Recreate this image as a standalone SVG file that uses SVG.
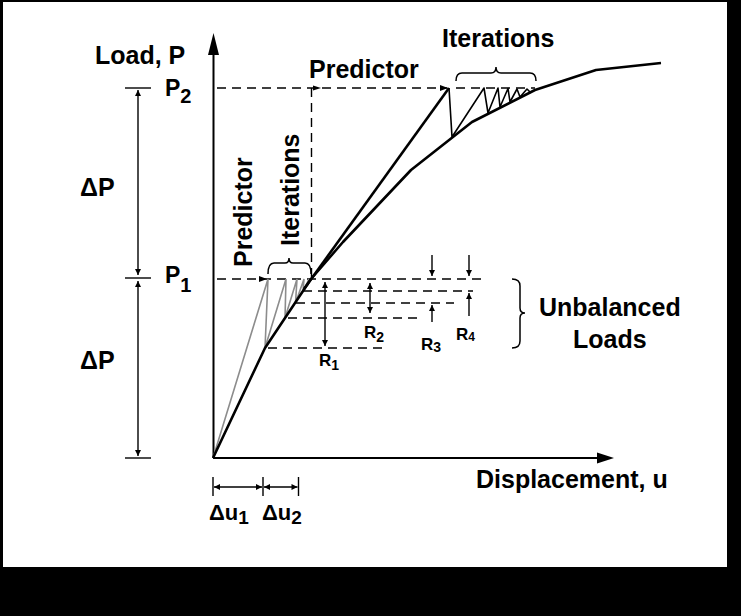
<svg xmlns="http://www.w3.org/2000/svg" width="741" height="616" viewBox="0 0 741 616">
<style>
.t{font-family:"Liberation Sans",Arial,sans-serif;font-weight:bold;fill:#000}
.big{font-size:25px}
.mid{font-size:22px}
.sm{font-size:17px}
.ln{stroke:#000;fill:none}
.dash{stroke:#000;stroke-width:1.4;stroke-dasharray:9 6;fill:none}
.gray{stroke:#8c8c8c;stroke-width:1.6;fill:none}
.dim{stroke:#000;stroke-width:1.4;fill:none}
</style>
<defs>
<marker id="ah" viewBox="0 0 10 10" refX="10" refY="5" markerWidth="7" markerHeight="6" markerUnits="userSpaceOnUse" orient="auto-start-reverse"><path d="M0,0 L10,5 L0,10 z" fill="#000"/></marker>
</defs>
<rect x="0" y="0" width="741" height="616" fill="#000"/>
<rect x="3" y="2" width="724" height="565" fill="#fff"/>

<g id="axes">
<line class="ln" x1="213.5" y1="458" x2="213.5" y2="50" stroke-width="2"/>
<polygon points="213.5,33 208,55 219,55" fill="#000"/>
<line class="ln" x1="213" y1="458" x2="600" y2="458" stroke-width="2"/>
<polygon points="614,458 597,452.5 597,463.5" fill="#000"/>
</g>

<g id="connectors">
<line class="dash" x1="217" y1="88" x2="447" y2="88"/>
<line class="dash" x1="456" y1="88" x2="535" y2="88"/>
<polygon points="448,88 440,85 440,91" fill="#000"/>
<line class="dash" x1="311.5" y1="88" x2="311.5" y2="279"/>
<polygon points="321,88 313,85.5 313,90.5" fill="#000"/>
<line class="dash" x1="217" y1="279" x2="482" y2="279"/>
<polygon points="267,279 259,276 259,282" fill="#000"/>
<line class="dash" x1="303" y1="291" x2="473" y2="291"/>
<line class="dash" x1="296" y1="303" x2="454" y2="303"/>
<line class="dash" x1="288" y1="318" x2="421" y2="318"/>
<line class="dash" x1="268" y1="348" x2="383" y2="348"/>

<path class="gray" d="M213,458 L268,279 L265,348 L286,279 L285,318 L297,279 L295.5,303 L304,279 L303,291 L309,279 L308,285"/>
<path class="ln" stroke-width="2.6" stroke-linejoin="round" d="M213,458 L265,348 L311,279 L343,242 L411,170 L472,122 L535,90 L596,70 L661,63"/>
<line class="ln" stroke-width="2.6" x1="304" y1="289" x2="449" y2="88"/>
<path class="ln" stroke-width="1.6" stroke-linejoin="round" d="M449,88 L452,137 L484,88 L488,113 L498,88 L500,107 L508,88.5 L510,102 L517,89 L520,97 L527,89 L531,93"/>

<line class="dim" x1="325" y1="282" x2="325" y2="346" marker-start="url(#ah)" marker-end="url(#ah)"/>
<line class="dim" x1="370" y1="283" x2="370" y2="313" marker-start="url(#ah)" marker-end="url(#ah)"/>
<line class="dim" x1="432" y1="255" x2="432" y2="276" marker-end="url(#ah)"/>
<line class="dim" x1="432" y1="322" x2="432" y2="305" marker-end="url(#ah)"/>
<line class="dim" x1="469" y1="255" x2="469" y2="276" marker-end="url(#ah)"/>
<line class="dim" x1="469" y1="316" x2="469" y2="293" marker-end="url(#ah)"/>

<line class="dim" x1="125" y1="88" x2="151" y2="88"/>
<line class="dim" x1="125" y1="278" x2="151" y2="278"/>
<line class="dim" x1="125" y1="458" x2="151" y2="458"/>
<line class="dim" x1="138" y1="90" x2="138" y2="275" marker-start="url(#ah)" marker-end="url(#ah)"/>
<line class="dim" x1="138" y1="281" x2="138" y2="456" marker-start="url(#ah)" marker-end="url(#ah)"/>

<line class="dim" x1="213" y1="477" x2="213" y2="496"/>
<line class="dim" x1="263" y1="477" x2="263" y2="496"/>
<line class="dim" x1="298.5" y1="477" x2="298.5" y2="496"/>
<line class="dim" x1="214" y1="487" x2="262" y2="487" marker-start="url(#ah)" marker-end="url(#ah)"/>
<line class="dim" x1="264" y1="487" x2="297.5" y2="487" marker-start="url(#ah)" marker-end="url(#ah)"/>

<path class="ln" stroke-width="1.5" d="M268,274 Q268,263 274,263 L285,263 Q289,263 289,258 Q289,263 293,263 L305,263 Q311,263 311,274"/>
<path class="ln" stroke-width="1.5" d="M456,81 Q456,73 462,73 L491,73 Q496,73 496,67 Q496,73 501,73 L530,73 Q536,73 536,81"/>
<path class="ln" stroke-width="1.5" d="M512,279 Q520,279 520,286 L520,308 Q520,313 525,313 Q520,313 520,318 L520,341 Q520,348 512,348"/>
</g>

<g id="labels">
<text class="t big" x="95" y="64">Load, P</text>
<text class="t big" x="309" y="78">Predictor</text>
<text class="t big" x="442" y="46.5">Iterations</text>
<text class="t big" x="539" y="316">Unbalanced</text>
<text class="t big" x="573" y="348">Loads</text>
<text class="t big" x="476" y="488">Displacement, u</text>
<text class="t big" x="80" y="196">ΔP</text>
<text class="t big" x="80" y="369">ΔP</text>
<text class="t" font-size="23" x="165" y="96">P<tspan font-size="20" dy="7">2</tspan></text>
<text class="t" font-size="23" x="165" y="283">P<tspan font-size="20" dy="9">1</tspan></text>
<text class="t big" transform="translate(252,267) rotate(-90)">Predictor</text>
<text class="t big" transform="translate(299,246) rotate(-90)">Iterations</text>
<text class="t sm" x="319" y="366">R<tspan font-size="14" dy="4">1</tspan></text>
<text class="t sm" x="364" y="338">R<tspan font-size="14" dy="4">2</tspan></text>
<text class="t sm" x="421" y="350">R<tspan font-size="14" dy="2">3</tspan></text>
<text class="t sm" x="456" y="340">R<tspan font-size="12" dy="1">4</tspan></text>
<text class="t mid" x="209" y="520">Δu<tspan font-size="19" dy="4">1</tspan></text>
<text class="t mid" x="262" y="520">Δu<tspan font-size="19" dy="4">2</tspan></text>
</g>
</svg>
